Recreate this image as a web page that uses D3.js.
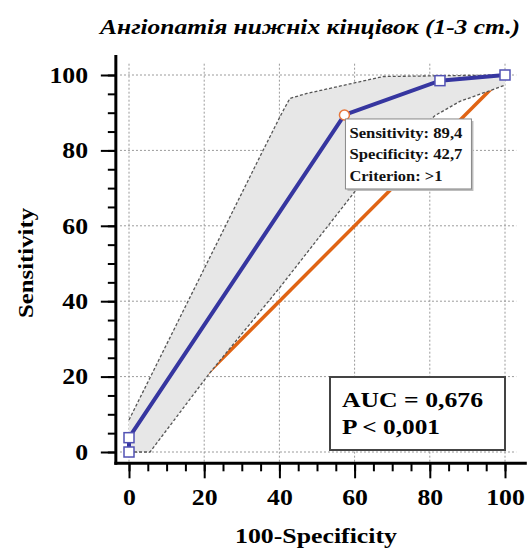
<!DOCTYPE html>
<html>
<head>
<meta charset="utf-8">
<script src="https://cdnjs.cloudflare.com/ajax/libs/d3/7.8.5/d3.min.js"></script>
<style>
  body { margin: 0; background: #fff; }
  text { font-family: "Liberation Serif", "DejaVu Serif", serif; font-weight: bold; }
</style>
</head>
<body>
<div id="chart"></div>
<script>
// ROC curve points (100-Specificity, Sensitivity)
var rocX = [0, 0, 57.3, 82.7, 100];
var rocY = [0, 3.8, 89.4, 98.5, 100];

// confidence band edges
var upperX = [0, 35.7, 40.6, 42.8, 47.3, 67.6, 100];
var upperY = [8.5, 80.1, 89.8, 93.8, 95.1, 99.6, 100];
var lowerX = [0, 5.6, 21.5, 40, 60, 72, 81.5, 88, 100];
var lowerY = [0, 0, 21, 43.5, 69, 81, 89.3, 93, 97.3];

// reference diagonal
var diagX = [0, 100];
var diagY = [0, 100];

var majorTicks = [0, 20, 40, 60, 80, 100];
var minorTicks = d3.range(0, 101, 5);

var criterion = ["Sensitivity: 89,4", "Specificity: 42,7", "Criterion: >1"];
var criterionWidths = [113, 113, 93];
var criterionIndex = 2;
var aucLines = ["AUC = 0,676", "P < 0,001"];
var aucWidths = [141, 98];

var width = 532, height = 549;

var x = d3.scaleLinear().domain([0, 100]).range([129, 505]);
var y = d3.scaleLinear().domain([0, 100]).range([452, 75]);

var svg = d3.select("#chart").append("svg")
  .attr("width", width)
  .attr("height", height);

var axisX0 = x(-3.5), axisY0 = y(-3);

// grid
var grid = svg.append("g")
  .attr("stroke", "#9a9a9a")
  .attr("stroke-width", 1)
  .attr("stroke-dasharray", "2,2");

grid.selectAll("line.h")
  .data(majorTicks)
  .enter().append("line")
  .attr("x1", x(-2.4)).attr("x2", x(103))
  .attr("y1", function(d) { return y(d); })
  .attr("y2", function(d) { return y(d); });

grid.selectAll("line.v")
  .data(majorTicks)
  .enter().append("line")
  .attr("y1", y(103)).attr("y2", axisY0)
  .attr("x1", function(d) { return x(d); })
  .attr("x2", function(d) { return x(d); });

var line = d3.line()
  .x(function(d) { return x(d[0]); })
  .y(function(d) { return y(d[1]); });

// diagonal (partly hidden by the band)
svg.append("path")
  .datum(d3.zip(diagX, diagY))
  .attr("d", line)
  .attr("fill", "none")
  .attr("stroke", "#e06414")
  .attr("stroke-width", 3.5);

// confidence band
var upper = d3.zip(upperX, upperY);
var lower = d3.zip(lowerX, lowerY);
var band = upper.concat(lower.slice().reverse());

svg.append("path")
  .attr("d", line(band) + "Z")
  .attr("fill", "#e7e7e7")
  .attr("stroke", "none");

[upper, lower].forEach(function(pts) {
  svg.append("path")
    .datum(pts)
    .attr("d", line)
    .attr("fill", "none")
    .attr("stroke", "#555")
    .attr("stroke-width", 1.3)
    .attr("stroke-dasharray", "3,2");
});

// ROC curve
var roc = d3.zip(rocX, rocY);

svg.append("path")
  .datum(roc)
  .attr("d", line)
  .attr("fill", "none")
  .attr("stroke", "#3636a0")
  .attr("stroke-width", 4);

svg.selectAll("rect.pt")
  .data(roc.filter(function(d, i) { return i !== criterionIndex; }))
  .enter().append("rect")
  .attr("x", function(d) { return x(d[0]) - 5; })
  .attr("y", function(d) { return y(d[1]) - 5; })
  .attr("width", 10).attr("height", 10)
  .attr("fill", "#fff")
  .attr("stroke", "#5252b4")
  .attr("stroke-width", 1.5);

svg.append("circle")
  .attr("cx", x(rocX[criterionIndex]))
  .attr("cy", y(rocY[criterionIndex]))
  .attr("r", 5)
  .attr("fill", "#fff")
  .attr("stroke", "#e8783c")
  .attr("stroke-width", 1.5);

// axes
var yMinor = svg.append("g")
  .attr("transform", "translate(" + axisX0 + ",0)")
  .call(d3.axisLeft(y).tickValues(minorTicks).tickSize(8).tickFormat(""));
var yMajor = svg.append("g")
  .attr("transform", "translate(" + axisX0 + ",0)")
  .call(d3.axisLeft(y).tickValues(majorTicks).tickSize(15).tickPadding(8));
var xMinor = svg.append("g")
  .attr("transform", "translate(0," + axisY0 + ")")
  .call(d3.axisBottom(x).tickValues(minorTicks).tickSize(8).tickFormat(""));
var xMajor = svg.append("g")
  .attr("transform", "translate(0," + axisY0 + ")")
  .call(d3.axisBottom(x).tickValues(majorTicks).tickSize(15).tickPadding(10));

[yMinor, yMajor, xMinor, xMajor].forEach(function(g) {
  g.select(".domain").remove();
  g.selectAll(".tick line").attr("stroke", "#000").attr("stroke-width", 2);
  g.selectAll(".tick text")
    .attr("fill", "#000")
    .style("font-size", "23px")
    .style("font-family", "Liberation Serif, serif")
    .style("font-weight", "bold");
});
// labels in the reference are a bit wider than the font
yMajor.selectAll(".tick text").attr("transform", "translate(-2,0)scale(1.12,1)");
xMajor.selectAll(".tick text").attr("transform", "scale(1.12,1)")
  .attr("x", function() { return 0; });

svg.append("line")
  .attr("x1", axisX0).attr("x2", axisX0)
  .attr("y1", y(105.3)).attr("y2", axisY0 + 1.5)
  .attr("stroke", "#000").attr("stroke-width", 3);
svg.append("line")
  .attr("x1", axisX0 - 1.5).attr("x2", x(105.8))
  .attr("y1", axisY0).attr("y2", axisY0)
  .attr("stroke", "#000").attr("stroke-width", 3);

// title and labels
svg.append("text")
  .attr("x", 310).attr("y", 34)
  .attr("text-anchor", "middle")
  .attr("textLength", 420)
  .attr("lengthAdjust", "spacingAndGlyphs")
  .style("font-size", "22px")
  .style("font-style", "italic")
  .text("Ангіопатія нижніх кінцівок (1-3 ст.)");

svg.append("text")
  .attr("x", 316).attr("y", 543)
  .attr("text-anchor", "middle")
  .attr("textLength", 162)
  .attr("lengthAdjust", "spacingAndGlyphs")
  .style("font-size", "22px")
  .text("100-Specificity");

svg.append("text")
  .attr("transform", "translate(33,263)rotate(-90)")
  .attr("text-anchor", "middle")
  .attr("textLength", 110)
  .attr("lengthAdjust", "spacingAndGlyphs")
  .style("font-size", "21px")
  .text("Sensitivity");

// criterion box
var bx = x(rocX[criterionIndex]) + 1, by = y(rocY[criterionIndex]) + 4;
svg.append("rect")
  .attr("x", bx + 2).attr("y", by + 2)
  .attr("width", 126).attr("height", 70)
  .attr("fill", "#bbb");
svg.append("rect")
  .attr("x", bx).attr("y", by)
  .attr("width", 126).attr("height", 70)
  .attr("fill", "#fff")
  .attr("stroke", "#888")
  .attr("stroke-width", 1);
svg.selectAll("text.crit")
  .data(criterion)
  .enter().append("text")
  .attr("x", bx + 4)
  .attr("y", function(d, i) { return by + 19 + i * 21.5; })
  .attr("textLength", function(d, i) { return criterionWidths[i]; })
  .attr("lengthAdjust", "spacingAndGlyphs")
  .style("font-size", "15px")
  .attr("fill", "#111")
  .text(function(d) { return d; });

// AUC box
svg.append("rect")
  .attr("x", 330).attr("y", 377)
  .attr("width", 175).attr("height", 73)
  .attr("fill", "#fff")
  .attr("stroke", "#444")
  .attr("stroke-width", 2);
svg.selectAll("text.auc")
  .data(aucLines)
  .enter().append("text")
  .attr("x", 342)
  .attr("y", function(d, i) { return 407 + i * 27; })
  .attr("textLength", function(d, i) { return aucWidths[i]; })
  .attr("lengthAdjust", "spacingAndGlyphs")
  .style("font-size", "22px")
  .text(function(d) { return d; });
</script>
</body>
</html>
